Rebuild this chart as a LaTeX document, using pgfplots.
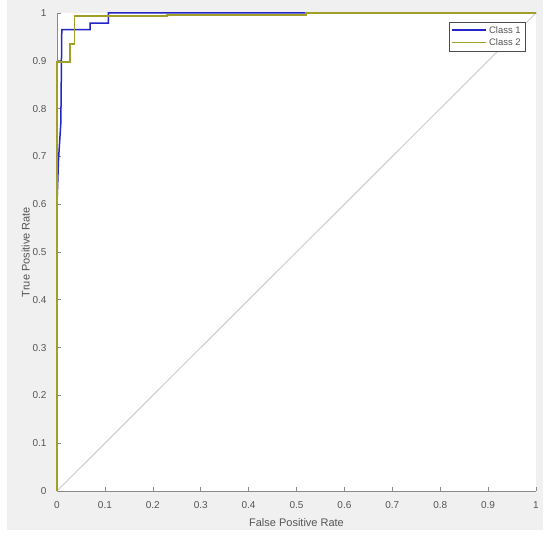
\documentclass[border=0pt]{standalone}
\usepackage{pgfplots}
\pgfplotsset{compat=1.18}
\usepackage{fontspec}
\setmainfont{Liberation Sans}
\definecolor{figbg}{HTML}{F0F0F0}
\definecolor{txt}{HTML}{555555}
\definecolor{axl}{HTML}{8A8A8A}
\definecolor{cblue}{HTML}{2424C8}
\definecolor{colive}{HTML}{A0A028}
\definecolor{diag}{HTML}{CDCDCD}
\begin{document}
\begin{tikzpicture}
\path[use as bounding box] (0pt,0pt) rectangle (550pt,540pt);
\fill[figbg] (7pt,10pt) rectangle (543pt,540pt);
\begin{axis}[
  at={(57pt,49pt)}, anchor=south west,
  scale only axis, width=479pt, height=478pt,
  xmin=0, xmax=1, ymin=0, ymax=1,
  axis lines*=left,
  axis line style={axl, line width=0.8pt},
  axis background/.style={fill=white},
  xtick={0,0.1,...,1}, ytick={0,0.1,...,1},
  xticklabels={0,0.1,0.2,0.3,0.4,0.5,0.6,0.7,0.8,0.9,1},
  yticklabels={0,0.1,0.2,0.3,0.4,0.5,0.6,0.7,0.8,0.9,1},
  tick style={axl, line width=0.6pt},
  tick align=inside,
  major tick length=4pt,
  ticklabel style={font=\fontsize{10}{12}\selectfont, text=txt},
  xticklabel style={yshift=-7pt},
  yticklabel style={xshift=-7pt},
  label style={font=\fontsize{11}{13}\selectfont, text=txt},
  xlabel={False Positive Rate},
  ylabel={True Positive Rate},
  xlabel style={yshift=-3pt},
  ylabel style={yshift=-4pt},
  legend style={at={(0.977,0.981)}, anchor=north east, draw=black!70, fill=white,
    font=\fontsize{9.5}{11}\selectfont, text=txt, inner sep=2pt, row sep=0pt,
    legend cell align=left},
  legend image code/.code={\draw[#1, line width=1.8pt] (0pt,0.3pt) -- (34pt,0.3pt);},
  clip=false,
]
\addplot[diag, line width=1pt, forget plot] coordinates {(0,0) (1,1)};
\addplot[cblue, line width=1.5pt] coordinates {
 (0,0) (0,0.60) (0.003,0.69) (0.008,0.77) (0.010,0.965) (0.069,0.965)
 (0.069,0.979) (0.107,0.979) (0.107,1) (1,1)};
\addlegendentry{Class 1}
\addplot[colive, line width=1.5pt] coordinates {
 (0,0) (0,0.897) (0.027,0.897) (0.027,0.935) (0.037,0.935) (0.037,0.994)
 (0.23,0.994) (0.23,0.996) (0.52,0.996) (0.52,1) (1,1)};
\addlegendentry{Class 2}
\end{axis}
\end{tikzpicture}
\end{document}
